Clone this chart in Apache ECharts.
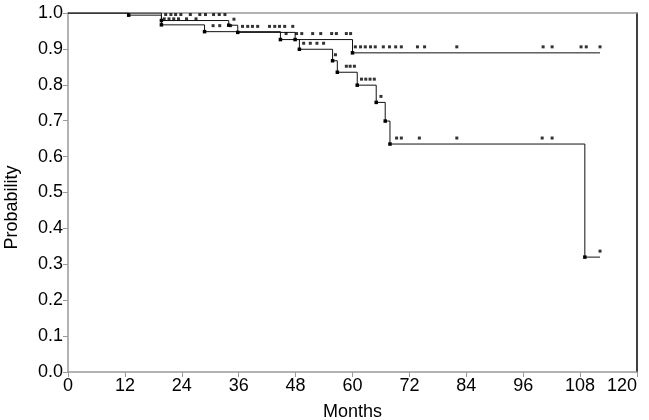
<!DOCTYPE html>
<html>
<head>
<meta charset="utf-8">
<script src="https://cdn.jsdelivr.net/npm/echarts@6/dist/echarts.min.js"></script>
<style>
html,body{margin:0;padding:0;background:#fff;}
#chart{width:649px;height:420px;}
</style>
</head>
<body>
<div id="chart"></div>
<script>
// Curve A (upper, plateau ~0.89)
const timeA = [0, 19.7, 33.9, 35.8, 47.9, 60.0, 112.2];
const survA = [1.0, 0.979, 0.966, 0.946, 0.926, 0.889, 0.889];
const censA = [20.6, 21.7, 22.7, 23.8, 25.8, 27.8, 29.0, 30.7, 31.9, 33.1, 35.0,
  36.8, 37.9, 38.9, 40.0, 42.5, 43.6, 44.6, 45.7, 47.4,
  48.2, 49.3, 51.6, 53.3, 55.6, 56.6, 58.7, 59.6,
  60.6, 61.7, 62.7, 63.8, 64.8, 66.5, 67.8, 69.1, 70.3, 73.7, 75.2, 82.0,
  100.2, 102.1, 108.2, 109.3, 112.2];

// Curve B (lower, drops to ~0.32)
const timeB = [0, 12.8, 19.7, 28.8, 44.8, 48.8, 55.8, 56.8, 61.0, 65.0, 66.9, 67.9, 109.0, 112.2];
const survB = [1.0, 0.994, 0.967, 0.948, 0.926, 0.899, 0.867, 0.835, 0.799, 0.751, 0.699, 0.635, 0.32, 0.32];
const censB = [20.3, 21.3, 22.3, 23.3, 25.0, 27.0, 30.6, 32.0, 34.3, 46.0,
  49.7, 51.1, 52.5, 53.9, 56.4, 58.7, 59.5, 60.4, 61.9, 62.8, 63.7, 64.6, 66.0,
  69.3, 70.3, 74.1, 82.0, 100.0, 102.1, 112.2];

const xMin = 0, xMax = 120, xStep = 12;
const yMin = 0, yMax = 1, yStep = 0.1;

function stepData(t, s) {
  return t.map((v, i) => {
    const item = { value: [v, s[i]] };
    if (i === 0 || i === t.length - 1) item.symbolSize = 0;
    return item;
  });
}
function survAt(t, s, x) {
  let v = s[0];
  for (let i = 0; i < t.length; i++) { if (t[i] <= x) v = s[i]; }
  return v;
}
function censData(c, t, s) { return c.map(x => [x, survAt(t, s, x)]); }

const font = 'Liberation Sans, Arial, sans-serif';
const gray = '#999';
const fs = 18;

const chart = echarts.init(document.getElementById('chart'), null, { renderer: 'canvas' });

function kmLine(t, s) {
  return {
    type: 'line', step: 'end', data: stepData(t, s),
    symbol: 'rect', symbolSize: 3.5, showAllSymbol: true,
    lineStyle: { color: '#111', width: 1 },
    itemStyle: { color: '#000' },
    silent: true, z: 3
  };
}
function censors(c, t, s) {
  return {
    type: 'scatter', data: censData(c, t, s),
    symbol: 'rect', symbolSize: [3, 3], symbolOffset: [0, -6],
    itemStyle: { color: '#000' }, silent: true, z: 4
  };
}

chart.setOption({
  animation: false,
  backgroundColor: '#fff',
  grid: { left: 68, right: 12, top: 13, bottom: 48, containLabel: false, outerBoundsMode: 'none' },
  xAxis: [{
    type: 'value', min: xMin, max: xMax, interval: xStep,
    name: 'Months', nameLocation: 'middle', nameGap: 31,
    nameTextStyle: { fontFamily: font, fontSize: fs, color: '#000' },
    axisLine: { show: true, lineStyle: { color: gray, width: 1.5 } },
    axisTick: { show: true, length: 5, lineStyle: { color: gray } },
    axisLabel: { fontFamily: font, fontSize: fs, color: '#000', margin: 5, alignMaxLabel: 'right' },
    splitLine: { show: false }
  }, {
    type: 'value', position: 'top', min: xMin, max: xMax,
    axisLine: { show: true, onZero: false, lineStyle: { color: gray, width: 1.5 } },
    axisTick: { show: false }, axisLabel: { show: false }, splitLine: { show: false }
  }],
  yAxis: [{
    type: 'value', min: yMin, max: yMax, interval: yStep,
    name: 'Probability', nameLocation: 'middle', nameGap: 47, nameRotate: 90,
    nameTextStyle: { fontFamily: font, fontSize: fs, color: '#000', padding: [0, 30, 0, 0] },
    axisLine: { show: true, lineStyle: { color: gray, width: 1.5 } },
    axisTick: { show: true, length: 5, lineStyle: { color: gray } },
    axisLabel: { fontFamily: font, fontSize: fs, color: '#000', margin: 5,
      formatter: v => v.toFixed(1) },
    splitLine: { show: false }
  }, {
    type: 'value', position: 'right', min: yMin, max: yMax,
    axisLine: { show: true, onZero: false, lineStyle: { color: '#000', width: 1.5 } },
    axisTick: { show: false }, axisLabel: { show: false }, splitLine: { show: false }
  }],
  series: [
    kmLine(timeA, survA),
    kmLine(timeB, survB),
    censors(censA, timeA, survA),
    censors(censB, timeB, survB)
  ]
});
</script>
</body>
</html>
